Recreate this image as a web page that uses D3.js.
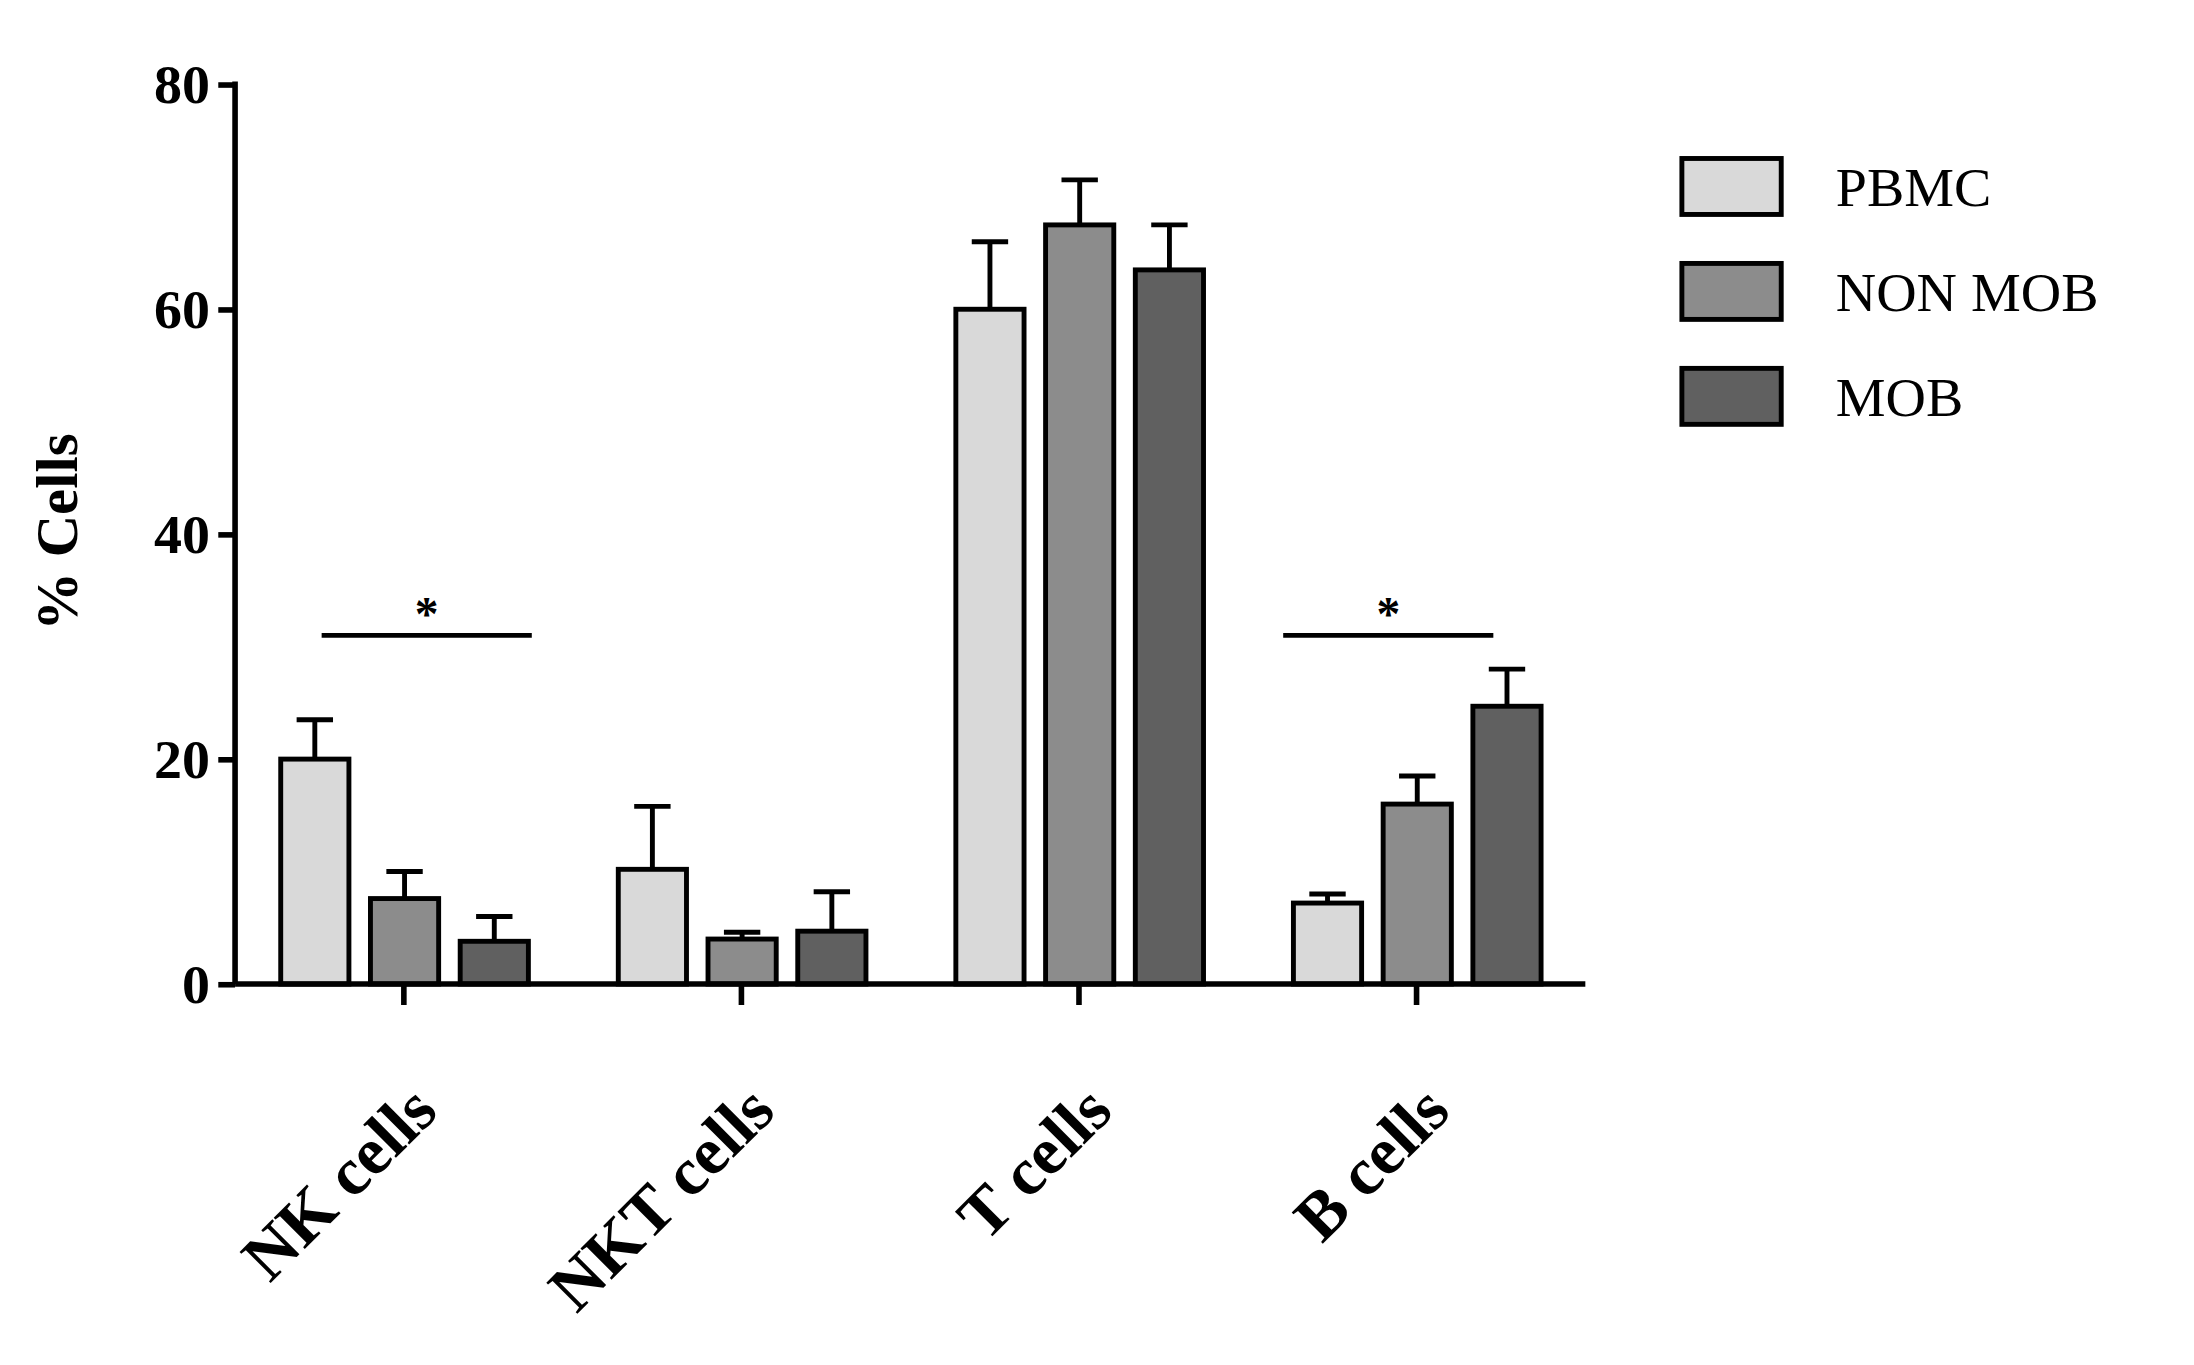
<!DOCTYPE html>
<html><head><meta charset="utf-8">
<script src="https://cdn.jsdelivr.net/npm/d3@7"></script>
<style>body{margin:0;background:#fff}</style>
</head><body>
<svg id="chart" width="2194" height="1365" viewBox="0 0 1568 975"></svg>
<script>
const categories = ["NK cells", "NKT cells", "T cells", "B cells"];
const series = ["PBMC", "NON MOB", "MOB"];
const colors = ["#d9d9d9", "#8c8c8c", "#606060"];
const means = [[20, 7.6, 3.8], [10.2, 4, 4.7], [60, 67.5, 63.5], [7.2, 16, 24.7]];
const upper = [[23.5, 10, 6], [15.8, 4.6, 8.2], [66, 71.5, 67.5], [8, 18.5, 28]];
const yTicks = [0, 20, 40, 60, 80];
const sig = [
  { from: 0, fromFrac: 0.6, to: 2, toFrac: 1.05, cat: 0, y: 31 },
  { from: 0, fromFrac: -0.15, to: 2, toFrac: 0.3, cat: 3, y: 31 }
];

const svg = d3.select("#chart");
const font = "'Liberation Serif', serif";
const y = d3.scaleLinear().domain([0, 80]).range([703, 60]);
const x = d3.scaleBand().domain(categories).range([168, 1133]);
const xi = d3.scaleBand().domain(series).range([-88, 89]).paddingInner(0.24);

categories.forEach((c, ci) => {
  const cx = x(c) + x.bandwidth() / 2;
  const g = svg.append("g").attr("transform", `translate(${cx},0)`);
  series.forEach((s, si) => {
    const bx = xi(s), bw = xi.bandwidth(), mid = bx + bw / 2;
    g.append("line").attr("x1", mid).attr("x2", mid).attr("y1", y(means[ci][si])).attr("y2", y(upper[ci][si]))
      .attr("stroke", "#000").attr("stroke-width", 3.5);
    g.append("line").attr("x1", mid - 13).attr("x2", mid + 13).attr("y1", y(upper[ci][si])).attr("y2", y(upper[ci][si]))
      .attr("stroke", "#000").attr("stroke-width", 3.5);
    g.append("rect").attr("x", bx).attr("width", bw).attr("y", y(means[ci][si]))
      .attr("height", y(0) - y(means[ci][si])).attr("fill", colors[si]).attr("stroke", "#000").attr("stroke-width", 3.5);
  });
});

// significance
sig.forEach(d => {
  const cx = x(categories[d.cat]) + x.bandwidth() / 2;
  const bw = xi.bandwidth();
  const x1 = cx + xi(series[d.from]) + bw * d.fromFrac, x2 = cx + xi(series[d.to]) + bw * d.toFrac;
  svg.append("line").attr("x1", x1).attr("x2", x2).attr("y1", y(d.y)).attr("y2", y(d.y))
    .attr("stroke", "#000").attr("stroke-width", 3.5);
  svg.append("text").attr("x", (x1 + x2) / 2).attr("y", y(d.y) - 4).attr("text-anchor", "middle")
    .attr("font-family", font).attr("font-weight", "bold").attr("font-size", 34).text("*");
});

// axes
const yAxis = svg.append("g").attr("transform", "translate(168,0)")
  .call(d3.axisLeft(y).tickValues(yTicks).tickSize(12).tickPadding(6));
const xAxis = svg.append("g").attr("transform", "translate(0,703)")
  .call(d3.axisBottom(x).tickSize(15).tickFormat(""));
[yAxis, xAxis].forEach(a => {
  a.select(".domain").attr("stroke-width", 4);
  a.selectAll(".tick line").attr("stroke-width", 4);
});
xAxis.select(".domain").attr("d", "M168,0H1133");
yAxis.select(".domain").attr("d", "M0,703V58");
yAxis.selectAll("text").attr("font-family", font).attr("font-weight", "bold").attr("font-size", 40).attr("fill", "#000");

categories.forEach(c => {
  const cx = x(c) + x.bandwidth() / 2;
  svg.append("text").attr("transform", `translate(${cx + 2},772) rotate(-45)`).attr("text-anchor", "end")
    .attr("dy", "0.7em").attr("font-family", font).attr("font-weight", "bold").attr("font-size", 48).text(c);
});

svg.append("text").attr("transform", "translate(55,380) rotate(-90)").attr("text-anchor", "middle")
  .attr("font-family", font).attr("font-weight", "bold").attr("font-size", 42).text("% Cells");

// legend
series.forEach((s, i) => {
  const ly = 113 + i * 75;
  svg.append("rect").attr("x", 1202).attr("y", ly).attr("width", 71).attr("height", 40)
    .attr("fill", colors[i]).attr("stroke", "#000").attr("stroke-width", 3.5);
  svg.append("text").attr("x", 1312).attr("y", ly + 20).attr("dy", "0.35em")
    .attr("font-family", font).attr("font-size", 40).text(s);
});
</script>
</body></html>
